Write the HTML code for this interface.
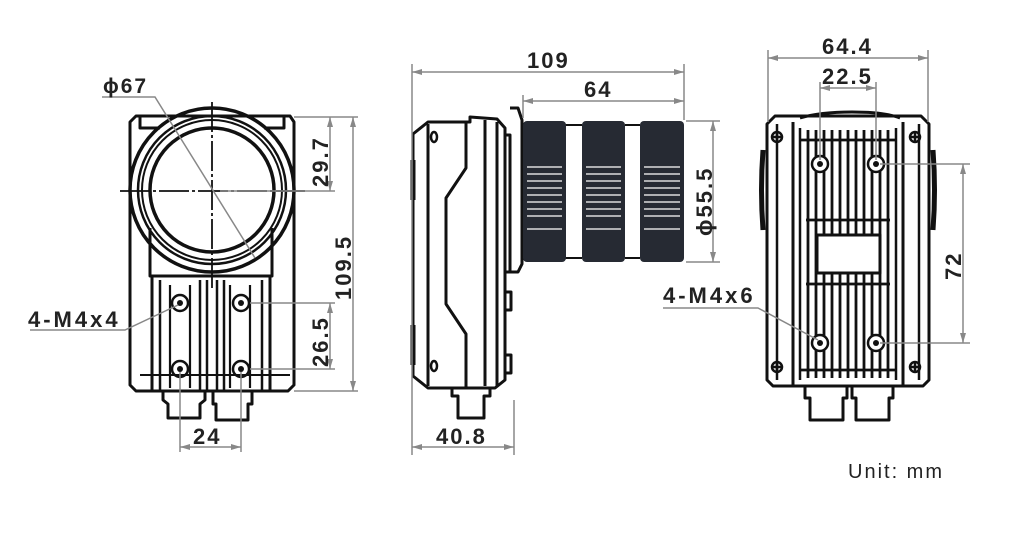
<!DOCTYPE html>
<html><head><meta charset="utf-8"><style>
html,body{margin:0;padding:0;background:#fff;}
svg{display:block;}
text{font-family:"Liberation Sans",Arial,sans-serif;font-weight:bold;fill:#222;letter-spacing:2px;}
</style></head><body>
<svg width="1024" height="538" viewBox="0 0 1024 538" xmlns="http://www.w3.org/2000/svg">
<defs>
<marker id="a" viewBox="0 0 10 6" refX="10" refY="3" markerWidth="10" markerHeight="6" orient="auto-start-reverse" markerUnits="userSpaceOnUse"><path d="M0,0 L10,3 L0,6 z" fill="#888"/></marker>
</defs>
<g fill="none" stroke="#111" stroke-width="3" stroke-linejoin="round">
<!-- LEFT VIEW -->
<path d="M130,122 L136,116 L290,116 L294,122 L294,385 L288,391 L136,391 L130,385 Z"/>
<path d="M140,116 L140,128 L160,128 M284,116 L284,128 L264,128"/>
<circle cx="212" cy="190" r="82" stroke-width="3.5"/>
<circle cx="212" cy="190" r="74" stroke-width="2.5"/>
<circle cx="212" cy="190" r="70" stroke-width="2"/>
<circle cx="212" cy="190" r="62" stroke-width="3.5"/>
<path d="M150,228 L150,276 L272,276 L272,228"/>
<path d="M152,276 L152,390 M270,276 L270,390"/>
<path d="M160,280 L160,390 M200,280 L200,390 M207,280 L207,390 M217,280 L217,390 M224,280 L224,390 M262,280 L262,390" stroke-width="2.5"/>
<path d="M170,285 L170,388 M190,285 L190,388 M230,285 L230,388 M250,285 L250,388" stroke-width="2.2"/>
<path d="M140,375 L290,375" stroke-width="2"/>
<g stroke-width="2.5"><circle cx="180" cy="303" r="8"/><circle cx="241" cy="303" r="8"/><circle cx="180" cy="369" r="8"/><circle cx="241" cy="369" r="8"/></g>
<g fill="#111" stroke="none"><circle cx="180" cy="303" r="3"/><circle cx="241" cy="303" r="3"/><circle cx="180" cy="369" r="3"/><circle cx="241" cy="369" r="3"/></g>
<path d="M163,391 L163,400 L168,404 L168,418 L200,418 L200,404 L205,400 L205,391"/>
<path d="M213,391 L213,404 L216,404 L216,420 L248,420 L248,404 L252,404 L252,391"/>
<!-- MIDDLE VIEW -->
<path d="M413,134 L428,122 L470,122 L470,117 L497,119 L505,128 L505,380 L495,388 L428,388 L413,376 Z"/>
<path d="M428,124 L428,386 M485,120 L485,386 M497,122 L497,386"/>
<path d="M466,122 L466,168 L446,198 L446,304 L466,334 L466,388"/>
<path d="M413,160 L413,200" stroke-width="5"/>
<path d="M413,325 L413,365" stroke-width="5"/>
<ellipse cx="434" cy="137" rx="3" ry="5" stroke-width="2.5"/>
<ellipse cx="434" cy="366" rx="3" ry="5" stroke-width="2.5"/>
<path d="M505,135 L510,135 L510,272 L505,272 M510,108 L518,108 L522,120 L522,264 L518,272 L510,272"/>
<path d="M505,292 L511,292 L511,310 L505,310 M505,355 L511,355 L511,373 L505,373"/>
<path d="M452,388 L452,396 L458,396 L458,418 L484,418 L484,396 L490,396 L490,388"/>
<path d="M565,125 L582,125 M625,125 L640,125 M565,258 L582,258 M625,258 L640,258" stroke-width="2"/>
<!-- RIGHT VIEW -->
<path d="M763,150 Q760,190 763,230 M933,150 Q936,190 933,230" stroke-width="5"/>
<path d="M852,112 Q820,112 800,118 M852,112 Q885,112 900,118" stroke-width="3"/>
<path d="M767,124 L775,116 L921,116 L929,124 L929,380 L923,386 L773,386 L767,380 Z"/>
<path d="M777,124 L777,380 M919,124 L919,380" stroke-width="2.5"/>
<path d="M793,122 L793,385 M903,122 L903,385"/>
<path d="M800,128 L800,380 M896,128 L896,380" stroke-width="2.5"/>
<g stroke-width="2.8">
<path d="M808,130 L808,378 M816,130 L816,378 M824,130 L824,378 M832,130 L832,378 M840,130 L840,378 M848,130 L848,378 M856,130 L856,378 M864,130 L864,378 M872,130 L872,378 M880,130 L880,378 M888,130 L888,378"/>
<path d="M800,140 L896,140 M800,370 L896,370 M806,220 L890,220 M806,284 L890,284"/>
</g>
<rect x="817" y="235" width="63" height="38" fill="#fff" stroke-width="3"/>
<g fill="#fff" stroke-width="2.5"><circle cx="820" cy="164" r="8"/><circle cx="876" cy="164" r="8"/><circle cx="820" cy="343" r="8"/><circle cx="876" cy="343" r="8"/></g>
<g fill="#111" stroke="none"><circle cx="820" cy="164" r="3"/><circle cx="876" cy="164" r="3"/><circle cx="820" cy="343" r="3"/><circle cx="876" cy="343" r="3"/></g>
<g stroke-width="2.5"><circle cx="777" cy="137" r="5"/><circle cx="915" cy="137" r="5"/><circle cx="777" cy="367" r="5"/><circle cx="915" cy="367" r="5"/>
<path d="M772,137 L782,137 M777,132 L777,142 M910,137 L920,137 M915,132 L915,142 M772,367 L782,367 M777,362 L777,372 M910,367 L920,367 M915,362 L915,372"/></g>
<path d="M805,386 L805,398 L810,398 L810,420 L843,420 L843,398 L847,398 L847,386"/>
<path d="M852,386 L852,398 L856,398 L856,420 L889,420 L889,398 L893,398 L893,386"/>
</g>
<!-- lens segments -->
<g fill="#262a33">
<rect x="523" y="121" width="43" height="141" rx="4"/>
<rect x="582" y="121" width="43" height="141" rx="4"/>
<rect x="640" y="121" width="44" height="141" rx="4"/>
</g>
<g stroke="#fff" stroke-width="1.2">
<path d="M527,167H562M527,174H562M527,181H562M527,188H562M527,195H562M527,202H562M527,209H562M527,216H562M527,229H562"/>
<path d="M586,167H621M586,174H621M586,181H621M586,188H621M586,195H621M586,202H621M586,209H621M586,216H621M586,229H621"/>
<path d="M644,167H680M644,174H680M644,181H680M644,188H680M644,195H680M644,202H680M644,209H680M644,216H680M644,229H680"/>
</g>
<!-- center lines left -->
<g stroke="#111" stroke-width="1.8">
<path d="M120,191 L305,191" stroke-dasharray="30,3,3,3"/>
<path d="M212,102 L212,290" stroke-dasharray="30,3,3,3"/>
</g>
<!-- dimension lines -->
<g stroke="#888" stroke-width="1.5" fill="none">
<path d="M102,97 L155,97 L255,258"/>
<path d="M294,117 L358,117 M220,191 L335,191 M294,391 L358,391 M250,303 L335,303 M250,369 L335,369"/>
<path d="M330,117 L330,191" marker-start="url(#a)" marker-end="url(#a)"/>
<path d="M353,117 L353,391" marker-start="url(#a)" marker-end="url(#a)"/>
<path d="M330,303 L330,369" marker-start="url(#a)" marker-end="url(#a)"/>
<path d="M180,372 L180,452 M241,372 L241,452"/>
<path d="M180,447 L241,447" marker-start="url(#a)" marker-end="url(#a)"/>
<path d="M30,330 L125,330 L178,305"/>
<path d="M412,64 L412,455 M684,64 L684,120 M523,95 L523,118 M514,400 L514,455"/>
<path d="M412,72 L684,72" marker-start="url(#a)" marker-end="url(#a)"/>
<path d="M523,101 L684,101" marker-start="url(#a)" marker-end="url(#a)"/>
<path d="M412,447 L514,447" marker-start="url(#a)" marker-end="url(#a)"/>
<path d="M686,121 L720,121 M686,262 L720,262"/>
<path d="M713,121 L713,262" marker-start="url(#a)" marker-end="url(#a)"/>
<path d="M768,50 L768,122 M928,50 L928,122 M820,82 L820,160 M876,82 L876,160"/>
<path d="M768,58 L928,58" marker-start="url(#a)" marker-end="url(#a)"/>
<path d="M820,88 L876,88" marker-start="url(#a)" marker-end="url(#a)"/>
<path d="M880,164 L970,164 M880,343 L970,343"/>
<path d="M963,164 L963,343" marker-start="url(#a)" marker-end="url(#a)"/>
<path d="M663,308 L758,308 L818,340"/>
</g>
<!-- text -->
<text x="103" y="93" font-size="21">ϕ67</text>
<text x="28" y="327" font-size="22" style="letter-spacing:3px">4-M4x4</text>
<text x="193" y="444" font-size="22">24</text>
<text transform="translate(328,187) rotate(-90)" font-size="22">29.7</text>
<text transform="translate(351,300) rotate(-90)" font-size="22">109.5</text>
<text transform="translate(328,367) rotate(-90)" font-size="22">26.5</text>
<text x="527" y="68" font-size="22">109</text>
<text x="584" y="97" font-size="22">64</text>
<text x="436" y="444" font-size="22">40.8</text>
<text transform="translate(712,236) rotate(-90)" font-size="22">ϕ55.5</text>
<text x="822" y="54" font-size="22">64.4</text>
<text x="822" y="84" font-size="22">22.5</text>
<text transform="translate(961,280) rotate(-90)" font-size="22">72</text>
<text x="663" y="303" font-size="22" style="letter-spacing:3px">4-M4x6</text>
<text x="848" y="478" font-size="20" style="font-weight:normal;letter-spacing:2px">Unit: mm</text>
</svg>
</body></html>
